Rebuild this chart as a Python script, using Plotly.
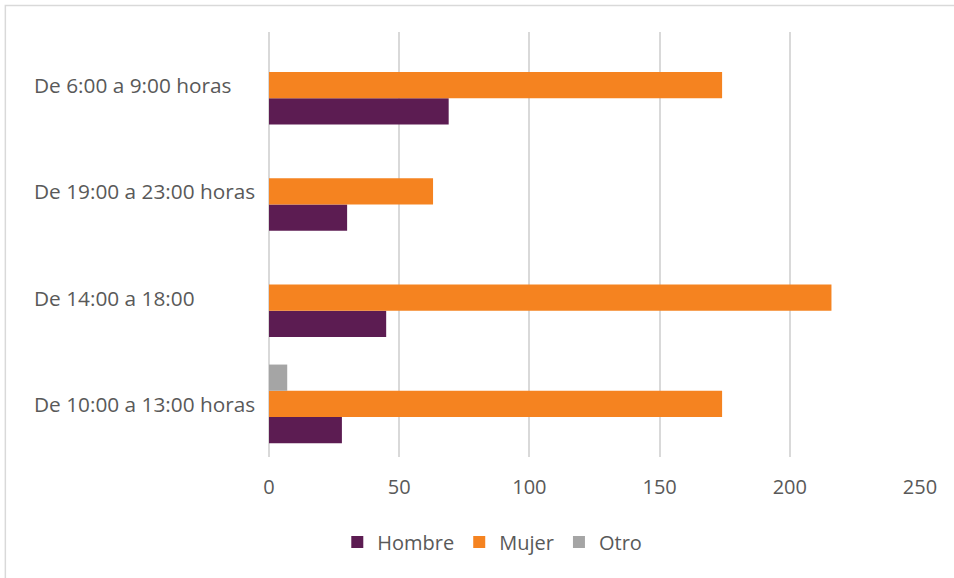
import plotly.graph_objects as go

categorias = ["De 10:00 a 13:00 horas", "De 14:00 a 18:00", "De 19:00 a 23:00 horas", "De 6:00 a 9:00 horas"]
hombre = [28, 45, 30, 69]
mujer = [174, 216, 63, 174]
otro = [7, 0, 0, 0]

gris_texto = "#595959"

fig = go.Figure()

fig.add_trace(go.Bar(y=categorias, x=hombre, name="Hombre", orientation="h",
                     marker=dict(color="#5C1C52", line=dict(width=0))))
fig.add_trace(go.Bar(y=categorias, x=mujer, name="Mujer", orientation="h",
                     marker=dict(color="#F58320", line=dict(width=0))))
fig.add_trace(go.Bar(y=categorias, x=otro, name="Otro", orientation="h",
                     marker=dict(color="#A5A5A5", line=dict(width=0))))

# etiquetas de categoría alineadas a la izquierda, como en Excel
for c in categorias:
    fig.add_annotation(x=-0.364, xref="paper", y=c, yref="y", text=c, showarrow=False,
                       xanchor="left", yanchor="middle",
                       font=dict(size=20.8, color=gris_texto))

fig.update_layout(
    width=954,
    height=578,
    barmode="group",
    bargap=0.26,
    bargroupgap=0,
    plot_bgcolor="white",
    paper_bgcolor="white",
    font=dict(family="Open Sans", size=20, color=gris_texto),
    margin=dict(l=269, r=34, t=32, b=121),
    legend=dict(orientation="h", x=0.343, xanchor="center", y=-0.2, yanchor="middle",
                font=dict(size=20), traceorder="normal", itemwidth=30),
    xaxis=dict(range=[0, 250], dtick=50, showgrid=True, gridcolor="#D9D9D9", gridwidth=1.6,
               zeroline=True, zerolinecolor="#D9D9D9", zerolinewidth=1.6,
               ticks="", showline=False, ticklabelstandoff=16,
               tickfont=dict(size=20, color=gris_texto)),
    yaxis=dict(showgrid=False, ticks="", showline=False, showticklabels=False),
    shapes=[dict(type="rect", xref="paper", yref="paper", x0=-0.405, x1=1.2, y0=-0.4, y1=1.0624,
                 line=dict(color="#D9D9D9", width=1.5), layer="below")],
)

fig.write_html("out.html", config={"displayModeBar": False},
               post_script="document.body.style.margin='0';")
